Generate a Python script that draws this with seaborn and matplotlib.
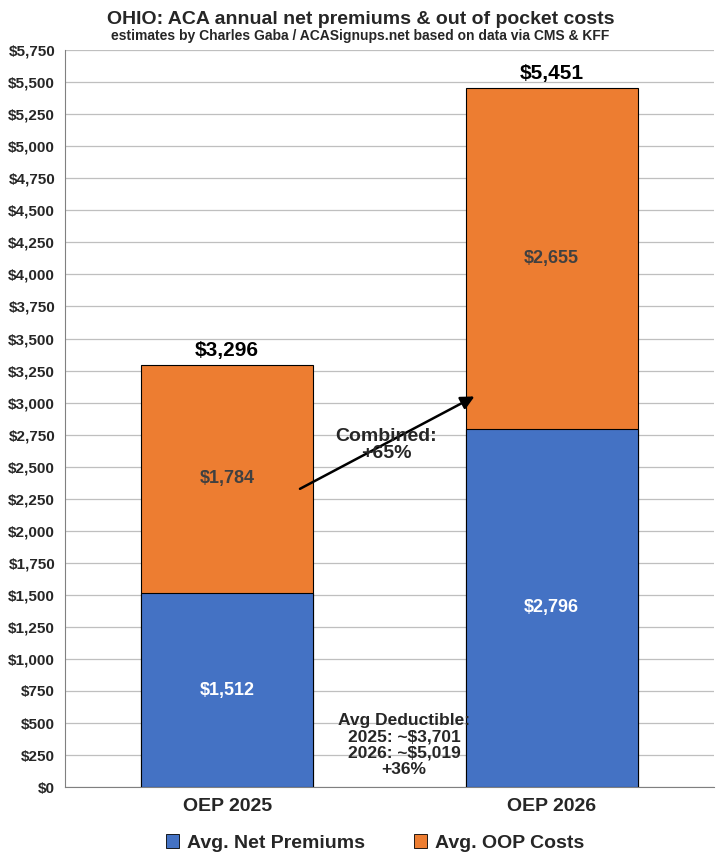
import matplotlib
matplotlib.use("Agg")
import matplotlib.pyplot as plt
import seaborn as sns
import pandas as pd

periods = ["OEP 2025", "OEP 2026"]
net_premiums = [1512, 2796]
oop_costs = [1784, 2655]
totals = [a + b for a, b in zip(net_premiums, oop_costs)]

sns.set_style("white")
plt.rcParams['font.family'] = ['Liberation Sans', 'DejaVu Sans']

df = pd.DataFrame({"period": periods, "net": net_premiums, "oop": oop_costs, "total": totals})

fig, ax = plt.subplots(figsize=(7.21, 8.64), dpi=100)
fig.subplots_adjust(left=0.09, right=0.99, top=0.942, bottom=0.089)

sns.barplot(data=df, x="period", y="total", color="#ED7D31", saturation=1,
            width=0.53, edgecolor="black", linewidth=0.8, ax=ax, zorder=2)
sns.barplot(data=df, x="period", y="net", color="#4472C4", saturation=1,
            width=0.53, edgecolor="black", linewidth=0.8, ax=ax, zorder=3)

ax.set_xlim(-0.5, 1.5)
ax.set_ylim(0, 5750)
ax.set_yticks(range(0, 5751, 250))
ax.set_yticklabels([f"${v:,}" for v in range(0, 5751, 250)], fontsize=11, fontweight="bold")
ax.set_xticks([0, 1])
ax.set_xticklabels(periods, fontsize=14, fontweight="bold")
ax.tick_params(axis="x", length=0, pad=8)
ax.set_xlabel("")
ax.set_ylabel("")
ax.grid(axis="y", color="#BFBFBF", linewidth=0.9, zorder=0)
ax.set_axisbelow(True)
for s in ["top", "right"]:
    ax.spines[s].set_visible(False)
ax.spines["left"].set_color("#808080")
ax.spines["bottom"].set_color("#808080")

for i in range(len(periods)):
    ax.text(i, net_premiums[i] / 2, f"${net_premiums[i]:,}", ha="center", va="center",
            color="white", fontsize=13, fontweight="bold", zorder=4)
    ax.text(i, net_premiums[i] + oop_costs[i] / 2, f"${oop_costs[i]:,}", ha="center", va="center",
            color="#404040", fontsize=13, fontweight="bold", zorder=4)
    ax.text(i, totals[i] + 40, f"${totals[i]:,}", ha="center", va="bottom",
            color="black", fontsize=15, fontweight="bold", zorder=4)

ax.annotate("", xy=(0.77, 3058), xytext=(0.217, 2317),
            arrowprops=dict(arrowstyle="-|>", color="black", lw=1.8, mutation_scale=20), zorder=5)
ax.text(0.49, 2670, "Combined:\n+65%", ha="center", va="center", fontsize=14,
        fontweight="bold", linespacing=1.0, zorder=6)
ax.text(0.545, 330, "Avg Deductible:\n2025: ~$3,701\n2026: ~$5,019\n+36%", ha="center",
        va="center", fontsize=12.5, fontweight="bold", linespacing=1.1)

fig.text(0.5, 0.978, "OHIO: ACA annual net premiums & out of pocket costs", ha="center",
         va="center", fontsize=14, fontweight="bold")
fig.text(0.5, 0.958, "estimates by Charles Gaba / ACASignups.net based on data via CMS & KFF",
         ha="center", va="center", fontsize=10, fontweight="bold")

from matplotlib.patches import Patch
handles = [Patch(facecolor="#4472C4", edgecolor="black", linewidth=0.6, label="Avg. Net Premiums"),
           Patch(facecolor="#ED7D31", edgecolor="black", linewidth=0.6, label="Avg. OOP Costs")]
fig.legend(handles=handles, loc="center", bbox_to_anchor=(0.52, 0.024), ncol=2, frameon=False,
           prop={"size": 14, "weight": "bold"}, handlelength=0.7, handleheight=0.7, columnspacing=2.5,
           handletextpad=0.4)

fig.savefig("out.png", dpi=100)
